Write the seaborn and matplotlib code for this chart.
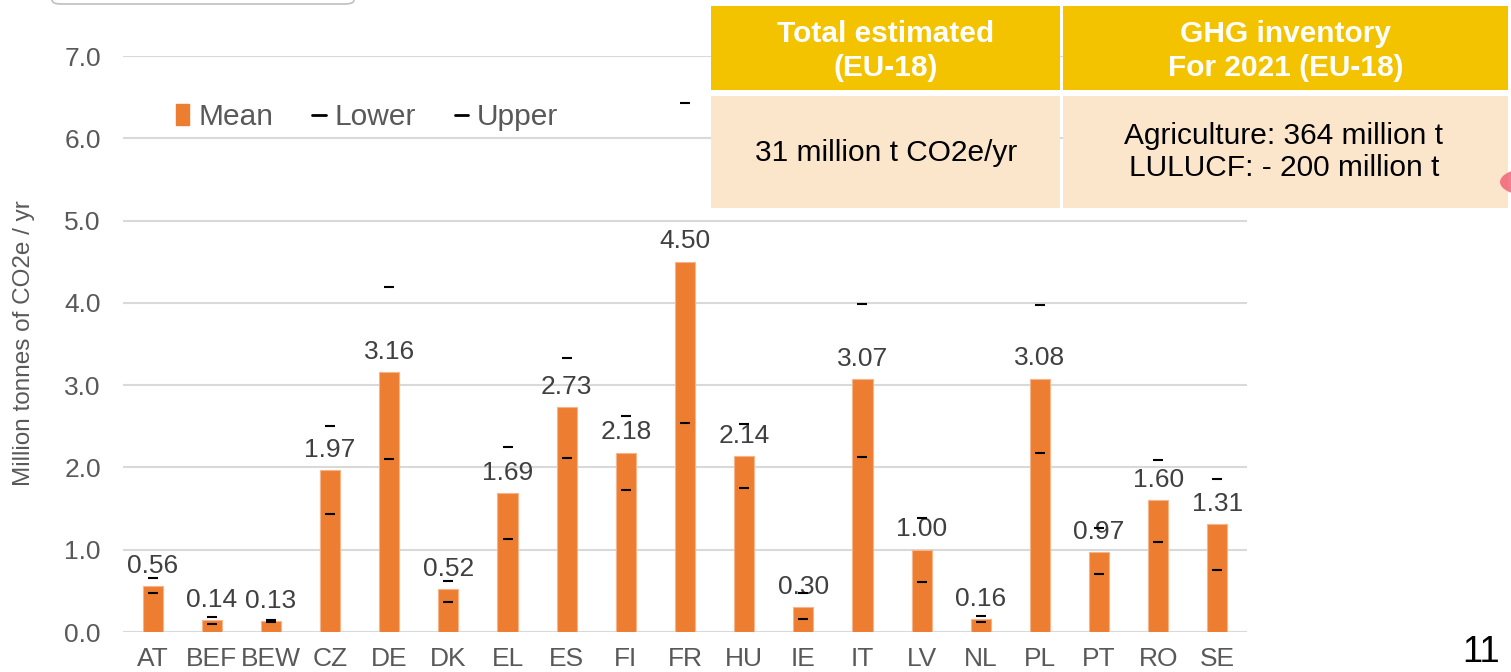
import numpy as np
import pandas as pd
import seaborn as sns
import matplotlib.pyplot as plt
from matplotlib.lines import Line2D
from matplotlib.patches import Patch, Rectangle, FancyBboxPatch, Circle

countries = ["AT", "BEF", "BEW", "CZ", "DE", "DK", "EL", "ES", "FI", "FR",
             "HU", "IE", "IT", "LV", "NL", "PL", "PT", "RO", "SE"]
mean = [0.56, 0.14, 0.13, 1.97, 3.16, 0.52, 1.69, 2.73, 2.18, 4.50,
        2.14, 0.30, 3.07, 1.00, 0.16, 3.08, 0.97, 1.60, 1.31]
lower = [0.48, 0.10, 0.12, 1.43, 2.10, 0.37, 1.13, 2.11, 1.73, 2.54,
         1.75, 0.16, 2.13, 0.61, 0.12, 2.17, 0.70, 1.09, 0.75]
upper = [0.66, 0.18, 0.15, 2.50, 4.19, 0.62, 2.25, 3.33, 2.62, 6.43,
         2.53, 0.47, 3.99, 1.39, 0.20, 3.97, 1.26, 2.09, 1.86]
yticks = [0, 1, 2, 3, 4, 5, 6, 7]

df = pd.DataFrame({"country": countries, "mean": mean, "lower": lower, "upper": upper})

ORANGE = "#ED7D31"
GRID = "#D9D9D9"
TICK = "#595959"

sns.set_theme(style="white")
plt.rcParams["font.family"] = ["Liberation Sans", "DejaVu Sans"]

fig = plt.figure(figsize=(15.11, 6.72), dpi=100)
ax = fig.add_axes([123 / 1511, 1 - 632 / 672, (1247 - 123) / 1511, (632 - 56) / 672])

sns.barplot(data=df, x="country", y="mean", color=ORANGE, width=0.34,
            saturation=1, ax=ax, zorder=2)
for bar in ax.patches:
    bar.set_edgecolor("#F5B48A")
    bar.set_linewidth(0.8)
ax.bar_label(ax.containers[0], fmt="%.2f", padding=6, fontsize=19, color="#404040")

for col in ["lower", "upper"]:
    sns.pointplot(data=df, x="country", y=col, linestyle="none", marker="_",
                  markersize=7.5, markeredgewidth=1.5, color="black",
                  errorbar=None, ax=ax, zorder=4)

ax.set_xlim(-0.5, 18.5)
ax.set_ylim(0, 7)
ax.set_yticks(yticks)
ax.set_yticklabels([f"{v:.1f}" for v in yticks])
ax.yaxis.grid(True, color=GRID, linewidth=1.5, zorder=0)
ax.set_axisbelow(True)
for s in ax.spines.values():
    s.set_visible(False)
ax.tick_params(axis="y", length=0, pad=16, labelsize=19, labelcolor=TICK)
ax.tick_params(axis="x", length=0, pad=11, labelsize=19, labelcolor=TICK)
ax.set_xlabel("")
ax.set_ylabel("")

fig.text(24 / 1511, 1 - 343 / 672, "Million tonnes of CO2e / yr", rotation=90,
         ha="center", va="center", fontsize=17.5, color=TICK)

handles = [Patch(facecolor=ORANGE, edgecolor=ORANGE),
           Line2D([], [], color="black", linewidth=2),
           Line2D([], [], color="black", linewidth=2)]
fig.legend(handles, ["Mean", "Lower", "Upper"], ncol=3, frameon=False,
           loc="center left", bbox_to_anchor=(176 / 1511, 1 - 117 / 672),
           fontsize=21.5, handlelength=0.45, handleheight=0.7, handletextpad=0.3,
           columnspacing=1.3, labelcolor=TICK, borderpad=0, borderaxespad=0)

# summary table
def cell(x0, y0, x1, y1, color):
    fig.patches.append(Rectangle((x0 / 1511, 1 - y1 / 672), (x1 - x0) / 1511,
                                 (y1 - y0) / 672, transform=fig.transFigure,
                                 facecolor=color, edgecolor="none", zorder=5))

YELLOW = "#F4C300"
BEIGE = "#FBE6CB"
cell(711, 6, 1060, 90, YELLOW)
cell(1063, 6, 1508, 90, YELLOW)
cell(711, 96, 1060, 208, BEIGE)
cell(1063, 96, 1508, 208, BEIGE)

fig.text(886 / 1511, 1 - 51 / 672, "Total estimated\n(EU-18)", ha="center", va="center",
         fontsize=21.5, color="white", fontweight="bold",
         linespacing=1.25, zorder=6)
fig.text(1286 / 1511, 1 - 51 / 672, "GHG inventory\nFor 2021 (EU-18)", ha="center", va="center",
         fontsize=21.5, color="white", fontweight="bold",
         linespacing=1.25, zorder=6)
fig.text(886 / 1511, 1 - 153 / 672, "31 million t CO2e/yr", ha="center", va="center",
         fontsize=21.5, color="black", zorder=6)
fig.text(1284 / 1511, 1 - 152 / 672, "Agriculture: 364 million t\nLULUCF: - 200 million t",
         ha="center", va="center", fontsize=21.5, color="black",
         linespacing=1.2, zorder=6)

# decorations from the slide
fig.patches.append(FancyBboxPatch((52 / 1511, 1 - 4 / 672), 302 / 1511, 30 / 672,
                                  boxstyle="round,pad=0,rounding_size=0.006",
                                  transform=fig.transFigure, facecolor="white",
                                  edgecolor="#BFBFBF", linewidth=1.2, zorder=5))
fig.patches.append(Circle((1532 / 1511, 1 - 182 / 672), 32 / 1511,
                          transform=fig.transFigure, facecolor="#F06478",
                          edgecolor="none", alpha=0.85, zorder=5))
fig.text(1481 / 1511, 2 / 672, "11", ha="center", va="bottom", fontsize=26, color="black")

fig.savefig("out.png", dpi=100)
